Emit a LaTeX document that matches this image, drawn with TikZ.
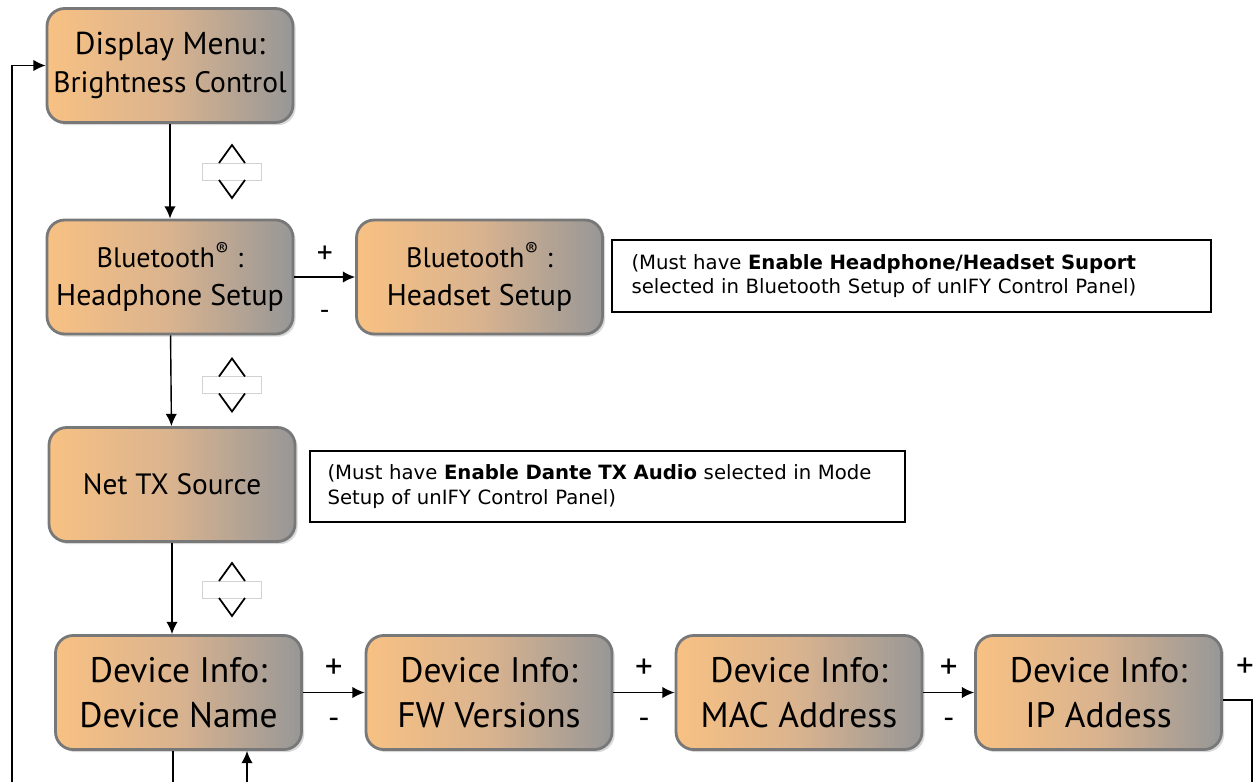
\documentclass[tikz,border=0pt]{standalone}
\usepackage{fontspec}
\setmainfont{PT Sans}
\newfontfamily\notefont{DejaVu Sans}
\usetikzlibrary{shadows,arrows.meta}
\definecolor{boxorange}{HTML}{F8C183}
\definecolor{boxmid}{HTML}{D9B38F}
\definecolor{boxgray}{HTML}{979797}
\definecolor{boxline}{HTML}{787878}
\def\sz#1{\fontsize{#1}{1.25\dimexpr#1pt\relax}\selectfont}

\begin{document}
\begin{tikzpicture}[x=0.02cm, y=-0.02cm, >={Latex[length=7pt,width=6.5pt]}, line width=0.8pt]
			\useasboundingbox (0,0) rectangle (1258,782);
			\tikzstyle{menu}=[rectangle, rounded corners=10pt, draw=boxline, line width=1.6pt, left color=boxorange, right color=boxgray, middle color=boxmid, minimum width=4.92cm, minimum height=2.28cm, align=center, drop shadow={shadow xshift=1.5pt, shadow yshift=-1.5pt, opacity=0.3}]
			\tikzstyle{note}=[rectangle, draw, line width=1pt, align=left, font=\notefont\sz{11.2}, inner xsep=0pt]
			\node[menu](disp) at (170,65.5) {{\sz{18}Display Menu:}\\[4.5pt]\sz{16.8}Brightness Control};
			\node[menu,font=\sz{17}](bthp) at (170,277) {{\sz{16}Bluetooth\textsuperscript{®} :}\\Headphone Setup};
			\node[menu,font=\sz{17}](bths) at (479.5,277) {{\sz{16}Bluetooth\textsuperscript{®} :}\\Headset Setup};
			\node[menu,font=\sz{16.7}](nettx) at (172,484.5) {Net TX Source};
			\node[note, minimum width=11.98cm, minimum height=1.44cm, text width=11.2cm](bthnote) at (911.5,276) {(Must have \textbf{Enable Headphone/Headset Suport}\\selected in Bluetooth Setup of unIFY Control Panel)};
			\node[note, minimum width=11.9cm, minimum height=1.42cm, text width=11.2cm](dantenote) at (607.5,486.5) {(Must have \textbf{Enable Dante TX Audio} selected in Mode\\Setup of unIFY Control Panel)};
			
			\foreach \x/\n/\lbl in {178.5/devname/Device Name, 489/fw/FW Versions, 799/mac/MAC Address, 1098.5/ip/IP Addess}
			\node[menu,font=\sz{20.2}](\n) at (\x,692.5) {Device Info:\\\lbl};
			
			% up/down keys
			\foreach \y in {171.5,385,589.5}
			{
			\draw[fill=white, draw=gray!35, line width=0.5pt] (202,\y-8.5) rectangle (261,\y+8.5);
			\draw[line width=1pt] (219,\y-8.5) -- (232,\y-26.5) -- (245,\y-8.5);
			\draw[line width=1pt] (219,\y+8.5) -- (232,\y+26.5) -- (245,\y+8.5);
			}
			
			\path[->] (disp) edge (bthp)
			(bthp) edge (nettx)
			(nettx.south) edge (nettx.south |- devname.north)
			(bthp) edge node[above=4pt, font=\sz{18}]{+} node[below=15pt, font=\sz{16}]{-} (bths);
			\foreach \a/\b in {devname/fw, fw/mac, mac/ip}
			\path[->] (\a) edge node[above=4pt, font=\sz{20}]{+} node[below=11pt, font=\sz{18}]{-} (\b);
			
			\coordinate (loopin) at (12,782);
			\coordinate (downout) at (173,782);
			\coordinate (upin) at (247,782);
			\coordinate (ipout) at (1252,782);
			\node[font=\sz{20}](ipplus) at (1245,668) {+};
			\draw[->] (loopin) |- (disp.west);
			\draw (downout |- devname.south) -- (downout);
			\draw[->] (upin) -- (upin |- devname.south);
			\draw ([yshift=-4.3pt]ip.east) -| (ipout);
\end{tikzpicture}
\end{document}
